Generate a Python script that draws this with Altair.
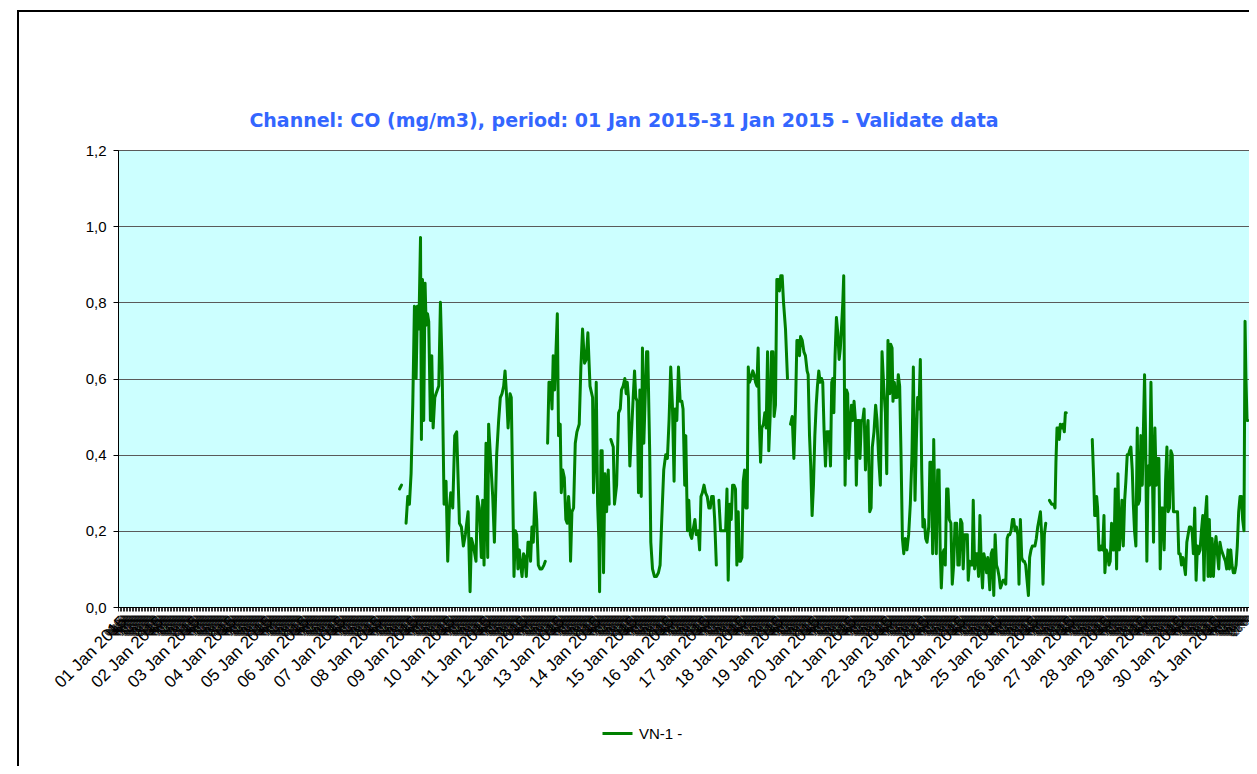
import json
import altair as alt
import pandas as pd

# ---- data (hour of month, CO mg/m3) ----
seg_a_hours = [185.2, 186.5]
seg_a_values = [0.31, 0.32]

seg_b_hours = [189.5, 190.6, 191.7, 192.8, 193.9, 195.0, 196.1, 197.0, 197.9, 199.0, 199.6, 200.3, 201.1, 202.0,
               202.7, 203.6, 204.4, 205.5, 206.4, 207.3, 208.4, 209.2, 211.0, 212.1, 213.2, 214.5, 215.8, 216.9,
               218.0, 218.9, 220.2, 221.5, 222.8, 224.6, 225.9, 227.2, 228.5, 230.3, 231.6, 232.5, 233.8, 235.5,
               236.4, 237.7, 239.0, 239.9, 240.8, 242.1, 243.2, 243.8, 246.5, 247.6, 249.1, 250.4, 251.5, 252.6,
               253.7, 254.6, 255.7, 256.6, 257.9, 258.7, 259.6, 260.5, 261.4, 262.3, 263.1, 264.0, 264.9, 265.8,
               266.8, 267.7, 268.6, 269.7, 270.6, 271.4, 272.3, 273.2, 274.3, 275.4, 276.5, 277.6, 278.9, 280.2,
               281.1]
seg_b_values = [0.22, 0.29, 0.27, 0.35, 0.53, 0.79, 0.60, 0.79, 0.73, 0.97, 0.44, 0.86, 0.49, 0.85,
                0.74, 0.77, 0.75, 0.49, 0.66, 0.47, 0.55, 0.56, 0.58, 0.80, 0.63, 0.27, 0.33, 0.12,
                0.26, 0.30, 0.26, 0.45, 0.46, 0.22, 0.21, 0.16, 0.19, 0.25, 0.04, 0.18, 0.16, 0.12,
                0.29, 0.26, 0.13, 0.28, 0.11, 0.43, 0.13, 0.48, 0.29, 0.17, 0.40, 0.49, 0.55, 0.56,
                0.58, 0.62, 0.55, 0.47, 0.56, 0.55, 0.32, 0.08, 0.20, 0.19, 0.10, 0.15, 0.11, 0.08,
                0.14, 0.13, 0.08, 0.17, 0.17, 0.12, 0.21, 0.17, 0.30, 0.23, 0.11, 0.10, 0.10, 0.11,
                0.12]

seg_c_hours = [282.6, 283.5, 284.6, 285.5, 286.3, 287.2, 288.1, 289.0, 289.8, 290.9, 291.6, 292.5, 293.6, 294.6,
               295.5, 296.4, 297.1, 297.7, 298.6, 299.7, 300.8, 301.9, 303.4, 304.5, 305.6, 306.9, 308.0, 309.1,
               310.5, 312.2, 312.8, 313.7, 314.6, 315.5, 316.3, 316.8, 317.7, 318.5, 319.4, 320.3, 321.4, 322.5,
               323.1]
seg_c_values = [0.43, 0.59, 0.59, 0.52, 0.66, 0.57, 0.67, 0.77, 0.45, 0.48, 0.30, 0.36, 0.34, 0.23,
                0.22, 0.29, 0.25, 0.12, 0.25, 0.26, 0.43, 0.46, 0.48, 0.63, 0.73, 0.64, 0.65, 0.72,
                0.58, 0.55, 0.30, 0.40, 0.59, 0.27, 0.18, 0.04, 0.41, 0.41, 0.09, 0.35, 0.25, 0.36,
                0.27]

seg_d_hours = [324.2, 325.8, 326.6, 328.0, 329.3, 330.4, 331.2, 332.3, 333.4, 334.3, 335.0, 335.8, 336.7, 337.8,
               338.9, 339.8, 340.6, 341.5, 342.4, 343.3, 344.2, 345.0, 345.9, 347.7, 348.5, 349.8, 350.5, 351.6,
               352.9, 354.2, 355.5, 356.6, 357.7, 359.0, 360.3, 361.4, 362.5, 363.6, 364.7, 365.8, 366.5, 367.6,
               368.7, 369.8, 370.9, 371.7, 372.8, 373.5, 374.6, 375.5, 376.5, 377.4, 378.2, 379.5, 380.4, 381.7,
               382.6, 383.5, 384.4, 385.5, 386.5, 387.6, 388.7, 389.6, 390.5, 391.6, 392.5, 393.6]
seg_d_values = [0.44, 0.42, 0.27, 0.32, 0.51, 0.52, 0.57, 0.58, 0.60, 0.56, 0.59, 0.55, 0.37, 0.46,
                0.55, 0.62, 0.55, 0.54, 0.30, 0.57, 0.29, 0.68, 0.43, 0.67, 0.67, 0.40, 0.17, 0.10,
                0.08, 0.08, 0.09, 0.11, 0.23, 0.36, 0.40, 0.39, 0.49, 0.63, 0.53, 0.33, 0.52, 0.49,
                0.63, 0.54, 0.54, 0.52, 0.32, 0.45, 0.20, 0.28, 0.19, 0.18, 0.20, 0.23, 0.19, 0.20,
                0.15, 0.29, 0.30, 0.32, 0.30, 0.29, 0.26, 0.26, 0.29, 0.29, 0.23, 0.11]

seg_e_hours = [395.3, 396.4, 397.5, 398.6, 399.7, 400.6, 401.4, 402.5, 403.4, 404.3, 405.2, 406.2, 407.1, 408.0,
               408.7, 409.5, 410.4, 411.3, 412.2, 413.0, 413.9, 414.6, 415.4, 416.3, 417.6, 418.5, 419.4, 420.3,
               421.1, 422.0, 422.7, 423.5, 424.6, 425.5, 426.4, 427.3, 428.1, 429.0, 429.9, 430.8, 431.6, 432.5,
               433.4, 434.3, 435.1, 436.0, 436.9, 437.8, 439.1, 440.4]
seg_e_values = [0.28, 0.20, 0.20, 0.20, 0.20, 0.31, 0.07, 0.27, 0.23, 0.32, 0.32, 0.31, 0.11, 0.25,
                0.12, 0.12, 0.13, 0.33, 0.36, 0.26, 0.26, 0.63, 0.59, 0.60, 0.62, 0.61, 0.59, 0.58,
                0.68, 0.47, 0.38, 0.47, 0.48, 0.51, 0.47, 0.67, 0.41, 0.50, 0.67, 0.67, 0.50, 0.53,
                0.86, 0.86, 0.83, 0.87, 0.87, 0.80, 0.73, 0.60]

seg_f_hours = [442.4, 443.5, 444.6, 445.7, 446.6, 447.4, 448.3, 449.0, 450.1, 451.2, 452.2, 453.3, 454.0, 454.9,
               455.7, 456.6, 457.5, 458.4, 459.3, 460.1, 461.0, 461.9, 462.8, 463.6, 464.5, 465.4, 466.3, 467.1,
               467.8, 468.7, 469.5, 470.2, 470.9, 471.7, 472.6, 473.5, 474.4, 475.2, 475.9, 476.8, 477.4, 478.3,
               479.2, 480.0, 480.7, 481.6, 482.5, 483.3, 484.2, 485.1, 485.7, 486.6, 487.5, 488.1, 489.0, 489.9,
               490.8, 491.7, 492.5, 493.4, 494.5, 495.4, 496.2, 497.3, 498.4, 499.3, 500.4, 501.5, 502.6, 503.7,
               504.8, 505.7, 506.5, 507.7, 508.3, 509.2, 509.8, 510.7, 511.6, 512.5, 513.3, 514.2, 515.1, 516.0,
               516.9, 517.9, 519.0, 520.1, 521.2, 522.3, 523.2, 524.3, 525.2, 526.0, 526.9, 527.8, 528.7, 529.5,
               530.4, 531.3, 532.2, 533.3, 534.1, 535.0, 535.9, 536.6, 537.4, 538.3, 539.2, 540.1, 540.9, 541.6,
               542.5, 543.3, 544.2, 545.1, 546.0, 546.8, 547.9, 548.8, 549.7, 550.6, 551.7, 552.5, 553.4, 554.3,
               555.2, 556.0, 556.9, 557.8, 558.7, 559.3, 560.2, 561.1, 561.9, 562.6, 563.5, 564.4, 565.2, 566.1,
               567.0, 567.9, 568.7, 569.6, 570.5, 571.4, 572.2, 573.5, 574.4, 575.2, 576.1, 577.0, 577.9, 578.7,
               579.6, 580.5, 581.4, 582.2, 583.1, 584.0, 584.9, 585.7, 586.6, 587.5, 588.4, 589.2, 590.1, 591.0,
               591.9, 592.7, 593.6, 594.5, 595.4, 596.2, 597.1, 598.0, 598.9, 599.7, 600.6, 601.5, 602.4, 603.2,
               604.1, 605.0, 605.9, 606.8, 607.6, 608.5, 609.4, 610.3]
seg_f_values = [0.48, 0.50, 0.39, 0.53, 0.70, 0.70, 0.66, 0.71, 0.70, 0.67, 0.66, 0.62, 0.61, 0.45,
                0.37, 0.24, 0.32, 0.45, 0.53, 0.58, 0.62, 0.59, 0.60, 0.59, 0.46, 0.37, 0.46, 0.46,
                0.46, 0.37, 0.59, 0.60, 0.51, 0.66, 0.76, 0.72, 0.65, 0.68, 0.73, 0.80, 0.87, 0.32,
                0.57, 0.56, 0.39, 0.48, 0.53, 0.49, 0.54, 0.49, 0.32, 0.49, 0.49, 0.39, 0.49, 0.49,
                0.52, 0.36, 0.45, 0.49, 0.25, 0.26, 0.42, 0.46, 0.53, 0.49, 0.39, 0.32, 0.67, 0.58,
                0.51, 0.35, 0.70, 0.56, 0.69, 0.68, 0.54, 0.59, 0.55, 0.55, 0.61, 0.58, 0.40, 0.18,
                0.14, 0.18, 0.15, 0.19, 0.27, 0.40, 0.63, 0.28, 0.44, 0.55, 0.52, 0.65, 0.36, 0.21,
                0.23, 0.18, 0.17, 0.21, 0.38, 0.38, 0.14, 0.44, 0.25, 0.14, 0.36, 0.36, 0.14, 0.05,
                0.14, 0.15, 0.11, 0.31, 0.31, 0.23, 0.22, 0.06, 0.11, 0.22, 0.22, 0.11, 0.11, 0.23,
                0.22, 0.10, 0.19, 0.19, 0.19, 0.07, 0.12, 0.11, 0.11, 0.28, 0.10, 0.14, 0.14, 0.08,
                0.24, 0.11, 0.05, 0.14, 0.12, 0.09, 0.13, 0.045, 0.14, 0.15, 0.03, 0.19, 0.11, 0.10,
                0.08, 0.05, 0.06, 0.07, 0.07, 0.06, 0.18, 0.19, 0.19, 0.20, 0.23, 0.23, 0.20, 0.21,
                0.19, 0.06, 0.23, 0.13, 0.12, 0.12, 0.11, 0.07, 0.03, 0.13, 0.15, 0.16, 0.16, 0.16,
                0.18, 0.21, 0.23, 0.25, 0.19, 0.06, 0.19, 0.22]

seg_g_hours = [612.7, 614.2, 615.5, 616.4, 617.0, 617.7, 618.6, 619.2, 619.9, 620.8, 621.6, 622.5, 623.2, 623.8]
seg_g_values = [0.28, 0.27, 0.27, 0.26, 0.38, 0.47, 0.47, 0.44, 0.48, 0.47, 0.48, 0.46, 0.51, 0.51]

seg_h_hours = [640.9, 641.8, 642.5, 643.1, 643.8, 644.4, 645.3, 646.2, 646.8, 647.7, 648.6, 649.2, 650.1, 651.0,
               651.9, 652.7, 653.6, 654.5, 655.2, 656.0, 656.9, 657.8, 658.7, 659.5, 660.4, 661.3, 662.2, 663.0,
               663.9, 664.8, 665.4, 666.3, 667.2, 667.9, 668.7, 669.6, 670.5, 671.1, 672.0, 672.9, 673.8, 674.4,
               675.3, 676.0, 676.8, 677.7, 678.6, 679.5, 680.3, 681.2, 682.1, 683.0, 683.8, 684.7, 685.6, 686.5,
               687.3, 688.2, 689.1, 690.0, 690.8, 691.7, 692.6, 693.5, 694.3, 695.2, 696.1, 697.0, 697.8, 698.7,
               699.6, 700.5, 701.3, 702.2, 703.1, 704.8, 705.7, 706.6, 707.4, 708.3, 709.2, 710.1, 710.9, 711.8,
               712.7, 713.6, 714.4, 715.3, 716.2, 717.1, 717.9, 718.8, 719.7, 720.6, 721.4, 722.3, 723.2, 724.1,
               724.9, 725.8, 726.7, 727.6, 728.5, 729.3, 730.2, 731.1, 732.0, 732.8, 733.7, 734.6, 735.5, 736.3,
               737.2, 738.1, 739.0, 739.8, 740.7, 741.4, 742.0, 742.7, 743.3]
seg_h_values = [0.44, 0.34, 0.24, 0.24, 0.29, 0.26, 0.15, 0.15, 0.16, 0.15, 0.24, 0.09, 0.15, 0.14,
                0.11, 0.12, 0.22, 0.15, 0.15, 0.31, 0.10, 0.35, 0.15, 0.20, 0.28, 0.16, 0.28, 0.33,
                0.40, 0.40, 0.41, 0.42, 0.36, 0.27, 0.20, 0.16, 0.47, 0.27, 0.28, 0.45, 0.32, 0.44,
                0.61, 0.44, 0.12, 0.37, 0.32, 0.59, 0.39, 0.17, 0.47, 0.32, 0.39, 0.39, 0.10, 0.26,
                0.26, 0.15, 0.33, 0.42, 0.25, 0.26, 0.41, 0.40, 0.25, 0.25, 0.25, 0.25, 0.14, 0.14,
                0.11, 0.13, 0.11, 0.085, 0.17, 0.21, 0.21, 0.20, 0.14, 0.26, 0.07, 0.16, 0.14, 0.15,
                0.20, 0.24, 0.07, 0.24, 0.29, 0.08, 0.23, 0.08, 0.18, 0.08, 0.15, 0.185, 0.14, 0.10,
                0.17, 0.15, 0.14, 0.13, 0.12, 0.10, 0.15, 0.10, 0.15, 0.11, 0.09, 0.09, 0.11, 0.16,
                0.25, 0.29, 0.29, 0.23, 0.20, 0.75, 0.60, 0.49, 0.49]

series_name = "VN-1 -"
title_text = "Channel: CO (mg/m3), period: 01 Jan 2015-31 Jan 2015 - Validate data"
y_ticks = [0.0, 0.2, 0.4, 0.6, 0.8, 1.0, 1.2]
day_labels = ["%02d Jan 2015" % d for d in range(1, 32)]
hour_labels = ["%02d:00" % h for h in range(24)]
hour_ticks = list(range(0, 744))

segments = [
    ("a", seg_a_hours, seg_a_values), ("b", seg_b_hours, seg_b_values),
    ("c", seg_c_hours, seg_c_values), ("d", seg_d_hours, seg_d_values),
    ("e", seg_e_hours, seg_e_values), ("f", seg_f_hours, seg_f_values),
    ("g", seg_g_hours, seg_g_values), ("h", seg_h_hours, seg_h_values),
]
rows = []
for name, hs, vs in segments:
    for h, v in zip(hs, vs):
        rows.append({"hour": h, "value": v, "segment": name, "series": series_name})
df = pd.DataFrame(rows)

FONT = "Liberation Sans"

label_expr = ("datum.value % 24 === 0 ? " + json.dumps(day_labels) + "[floor(datum.value / 24)] : "
              + json.dumps(hour_labels) + "[datum.value % 24]")

x_axis = alt.Axis(
    values=hour_ticks, labelExpr=label_expr, labelAngle=-45, labelAlign="right", labelBaseline="top",
    labelOverlap=False, labelFlush=False, labelBound=False,
    labelFontSize={"condition": {"test": "datum.value % 24 === 0", "value": 17}, "value": 10},
    labelFont=FONT, labelColor="black", labelPadding=2,
    tickSize=4, tickColor="#333333", tickWidth=1, domainColor="black", domainWidth=1,
    grid=False, title=None,
)
y_axis = alt.Axis(
    values=y_ticks, labelExpr="replace(format(datum.value, '.1f'), '.', ',')",
    labelFont=FONT, labelFontSize=15, labelColor="black", labelPadding=7,
    tickSize=5, tickColor="black", domainColor="black", domainWidth=1,
    grid=True, gridColor="#5a5a5a", gridWidth=1, gridOpacity=1, title=None,
)

line = alt.Chart(df).mark_line(strokeWidth=3, strokeJoin="round", strokeCap="round").encode(
    x=alt.X("hour:Q", scale=alt.Scale(domain=[0, 744], nice=False, zero=False), axis=x_axis),
    y=alt.Y("value:Q", scale=alt.Scale(domain=[0, 1.2], nice=False), axis=y_axis),
    color=alt.Color("series:N", scale=alt.Scale(domain=[series_name], range=["#008000"]),
                    legend=alt.Legend(title=None, orient="none", legendX=483, legendY=567,
                                      symbolType="stroke", symbolStrokeWidth=3, symbolSize=900,
                                      labelFont=FONT, labelFontSize=15, labelColor="black",
                                      labelOffset=5, padding=0)),
    detail="segment:N",
)

one_row = alt.Data(values=[{"k": 1}])
frame_left = alt.Chart(one_row).mark_rule(color="black", strokeWidth=2).encode(
    x=alt.value(-100), y=alt.value(-139), y2=alt.value(616))
frame_top = alt.Chart(one_row).mark_rule(color="black", strokeWidth=2).encode(
    x=alt.value(-101), x2=alt.value(1131), y=alt.value(-139))
title_mark = alt.Chart(one_row).mark_text(
    text=title_text, font="DejaVu Sans", fontSize=19, fontWeight="bold", color="#3366FF",
    align="center", baseline="middle").encode(x=alt.value(506), y=alt.value(-29))

chart = alt.layer(frame_left, frame_top, title_mark, line).properties(
    width=1131, height=457,
    autosize=alt.AutoSizeParams(type="none"),
    padding={"left": 110, "top": 142, "right": 0, "bottom": 159},
    background="white",
).configure_view(fill="#CCFFFF", stroke="#404040", strokeWidth=1)

chart.save("out.html", embed_options={"renderer": "svg", "actions": False})
